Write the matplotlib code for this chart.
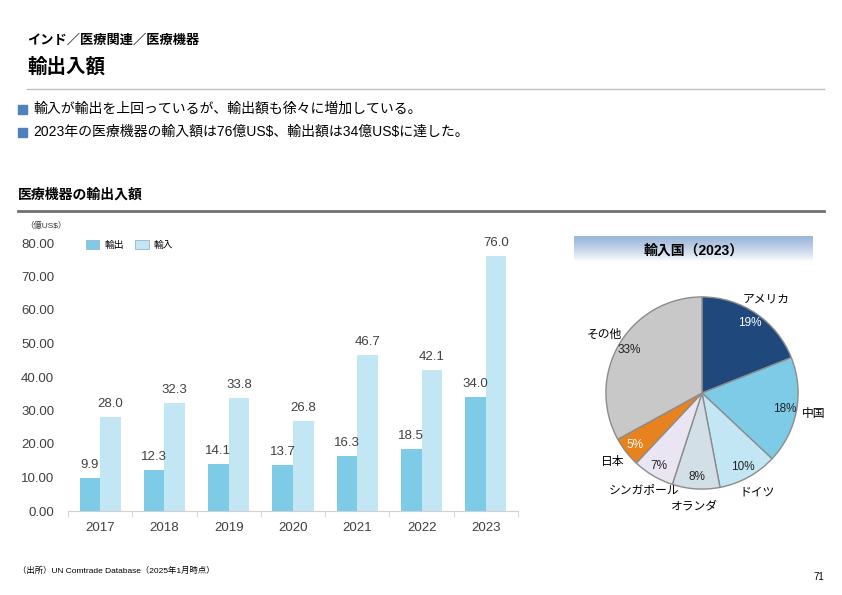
import matplotlib.pyplot as plt
import matplotlib.patches as mpatches
import numpy as np

plt.rcParams['font.family'] = ['Liberation Sans', 'Noto Sans CJK JP']

years = ['2017', '2018', '2019', '2020', '2021', '2022', '2023']
exports = [9.9, 12.3, 14.1, 13.7, 16.3, 18.5, 34.0]
imports = [28.0, 32.3, 33.8, 26.8, 46.7, 42.1, 76.0]

countries = ['アメリカ', '中国', 'ドイツ', 'オランダ', 'シンガポール', '日本', 'その他']
shares = [19, 18, 10, 8, 7, 5, 33]
pie_colors = ['#1F497D', '#7ECBE8', '#C2E6F3', '#D3DFE6', '#EAE5F2', '#E8821E', '#C8C8C8']
pct_colors = ['white', '#222222', '#222222', '#222222', '#222222', 'white', '#222222']

W, H = 842, 595
fig = plt.figure(figsize=(W / 100, H / 100), dpi=100)


def fx(px):
    return px / W


def fy(py):
    return 1 - py / H


# header
fig.text(fx(27), fy(41), 'インド／医療関連／医療機器', fontsize=9.5, fontweight='bold', va='center')
fig.text(fx(27), fy(67), '輸出入額', fontsize=14, fontweight='bold', va='center')
fig.add_artist(plt.Line2D([fx(27), fx(824)], [fy(89), fy(89)], color='#BFBFBF', lw=1))

bullets = ['輸入が輸出を上回っているが、輸出額も徐々に増加している。',
           '2023年の医療機器の輸入額は76億US$、輸出額は34億US$に達した。']
for i, b in enumerate(bullets):
    y = 109 + i * 23
    fig.add_artist(mpatches.Rectangle((fx(18), fy(y + 4.5)), fx(9), 9 / H, color='#4F81BD'))
    fig.text(fx(33), fy(y), b, fontsize=10, va='center', parse_math=False)

fig.text(fx(18), fy(195), '医療機器の輸出入額', fontsize=10, fontweight='bold', va='center')
fig.add_artist(plt.Line2D([fx(18), fx(824)], [fy(211), fy(211)], color='#707070', lw=2))

# bar chart
ax = fig.add_axes([fx(68), fy(511), fx(518) - fx(68), fy(243) - fy(511)])
x = np.arange(len(years))
w = 0.32
b1 = ax.bar(x - w / 2, exports, w, color='#7ECBE8', label='輸出')
b2 = ax.bar(x + w / 2, imports, w, color='#C2E6F3', label='輸入')
for bars, vals in ((b1, exports), (b2, imports)):
    for r, v in zip(bars, vals):
        ax.annotate(f'{v:.1f}', (r.get_x() + r.get_width() / 2, v), xytext=(0, 5),
                    textcoords='offset points', ha='center', va='bottom',
                    fontsize=9.5, color='#404040')
ax.set_ylim(0, 80)
ax.set_xlim(-0.5, len(years) - 0.5)
ax.set_yticks(np.arange(0, 81, 10))
ax.set_yticklabels([f'{t:.2f}' for t in np.arange(0, 81, 10)])
ax.set_xticks(x)
ax.set_xticklabels(years)
ax.set_xticks(np.arange(-0.5, len(years), 1), minor=True)
ax.tick_params(axis='y', length=0, labelsize=9.5, labelcolor='#404040', pad=10)
ax.tick_params(axis='x', which='major', length=0, labelsize=9.5, labelcolor='#404040', pad=8)
ax.tick_params(axis='x', which='minor', length=4, color='#D0D0D0')
for s in ['top', 'right', 'left']:
    ax.spines[s].set_visible(False)
ax.spines['bottom'].set_color('#D0D0D0')
leg = ax.legend(loc='upper left', bbox_to_anchor=(0.02, 1.045), ncol=2, frameon=False,
                fontsize=7, handlelength=1.4, handleheight=1.1, columnspacing=1.2,
                handletextpad=0.5)
for h in leg.legend_handles:
    h.set_edgecolor('#9DB3C8')
    h.set_linewidth(0.6)
fig.text(fx(25), fy(226), '（億US$）', fontsize=6, va='center', ha='left', color='#333333',
         parse_math=False)

# pie title box with gradient
tb = fig.add_axes([fx(574), fy(262), fx(813) - fx(574), fy(236) - fy(262)])
grad = np.linspace(0, 1, 100).reshape(-1, 1)
top = np.array([0.60, 0.71, 0.85])
img = top + (np.array([1.0, 1.0, 1.0]) - top) * grad[..., None] ** 1.3
img = img.reshape(100, 1, 3)
im = tb.imshow(img, aspect='auto', extent=(0, 1, 0, 1), origin='upper')
clip = mpatches.FancyBboxPatch((0, 0), 1, 1.3, boxstyle='round,pad=0,rounding_size=0.02',
                               transform=tb.transAxes, facecolor='none', edgecolor='none',
                               mutation_aspect=8)
tb.add_patch(clip)
im.set_clip_path(clip)
tb.set_xlim(0, 1)
tb.set_ylim(0, 1)
tb.axis('off')
tb.text(0.5, 0.45, '輸入国（2023）', ha='center', va='center', fontsize=10, fontweight='bold')

# pie
r = 98
pa = fig.add_axes([fx(702 - r), fy(393 + r), fx(2 * r), fy(393 - r) - fy(393 + r)])
wedges, texts, autotexts = pa.pie(shares, labels=countries, colors=pie_colors, startangle=90,
                                  counterclock=False, autopct='%d%%', pctdistance=0.88,
                                  labeldistance=1.18,
                                  wedgeprops=dict(edgecolor='#8C8C8C', linewidth=1),
                                  textprops=dict(fontsize=8.5))
for t in texts:
    t.set_ha('center')
    t.set_va('center')
for t, c in zip(autotexts, pct_colors):
    t.set_color(c)
pa.set_xlim(-1.02, 1.02)
pa.set_ylim(-1.02, 1.02)
pa.set_aspect('auto')

# footer
fig.text(fx(18), fy(571), '（出所）UN Comtrade Database（2025年1月時点）', fontsize=6, va='center')
fig.text(fx(824), fy(577), '71', fontsize=7, va='center', ha='right')

fig.savefig('out.png', dpi=100)
